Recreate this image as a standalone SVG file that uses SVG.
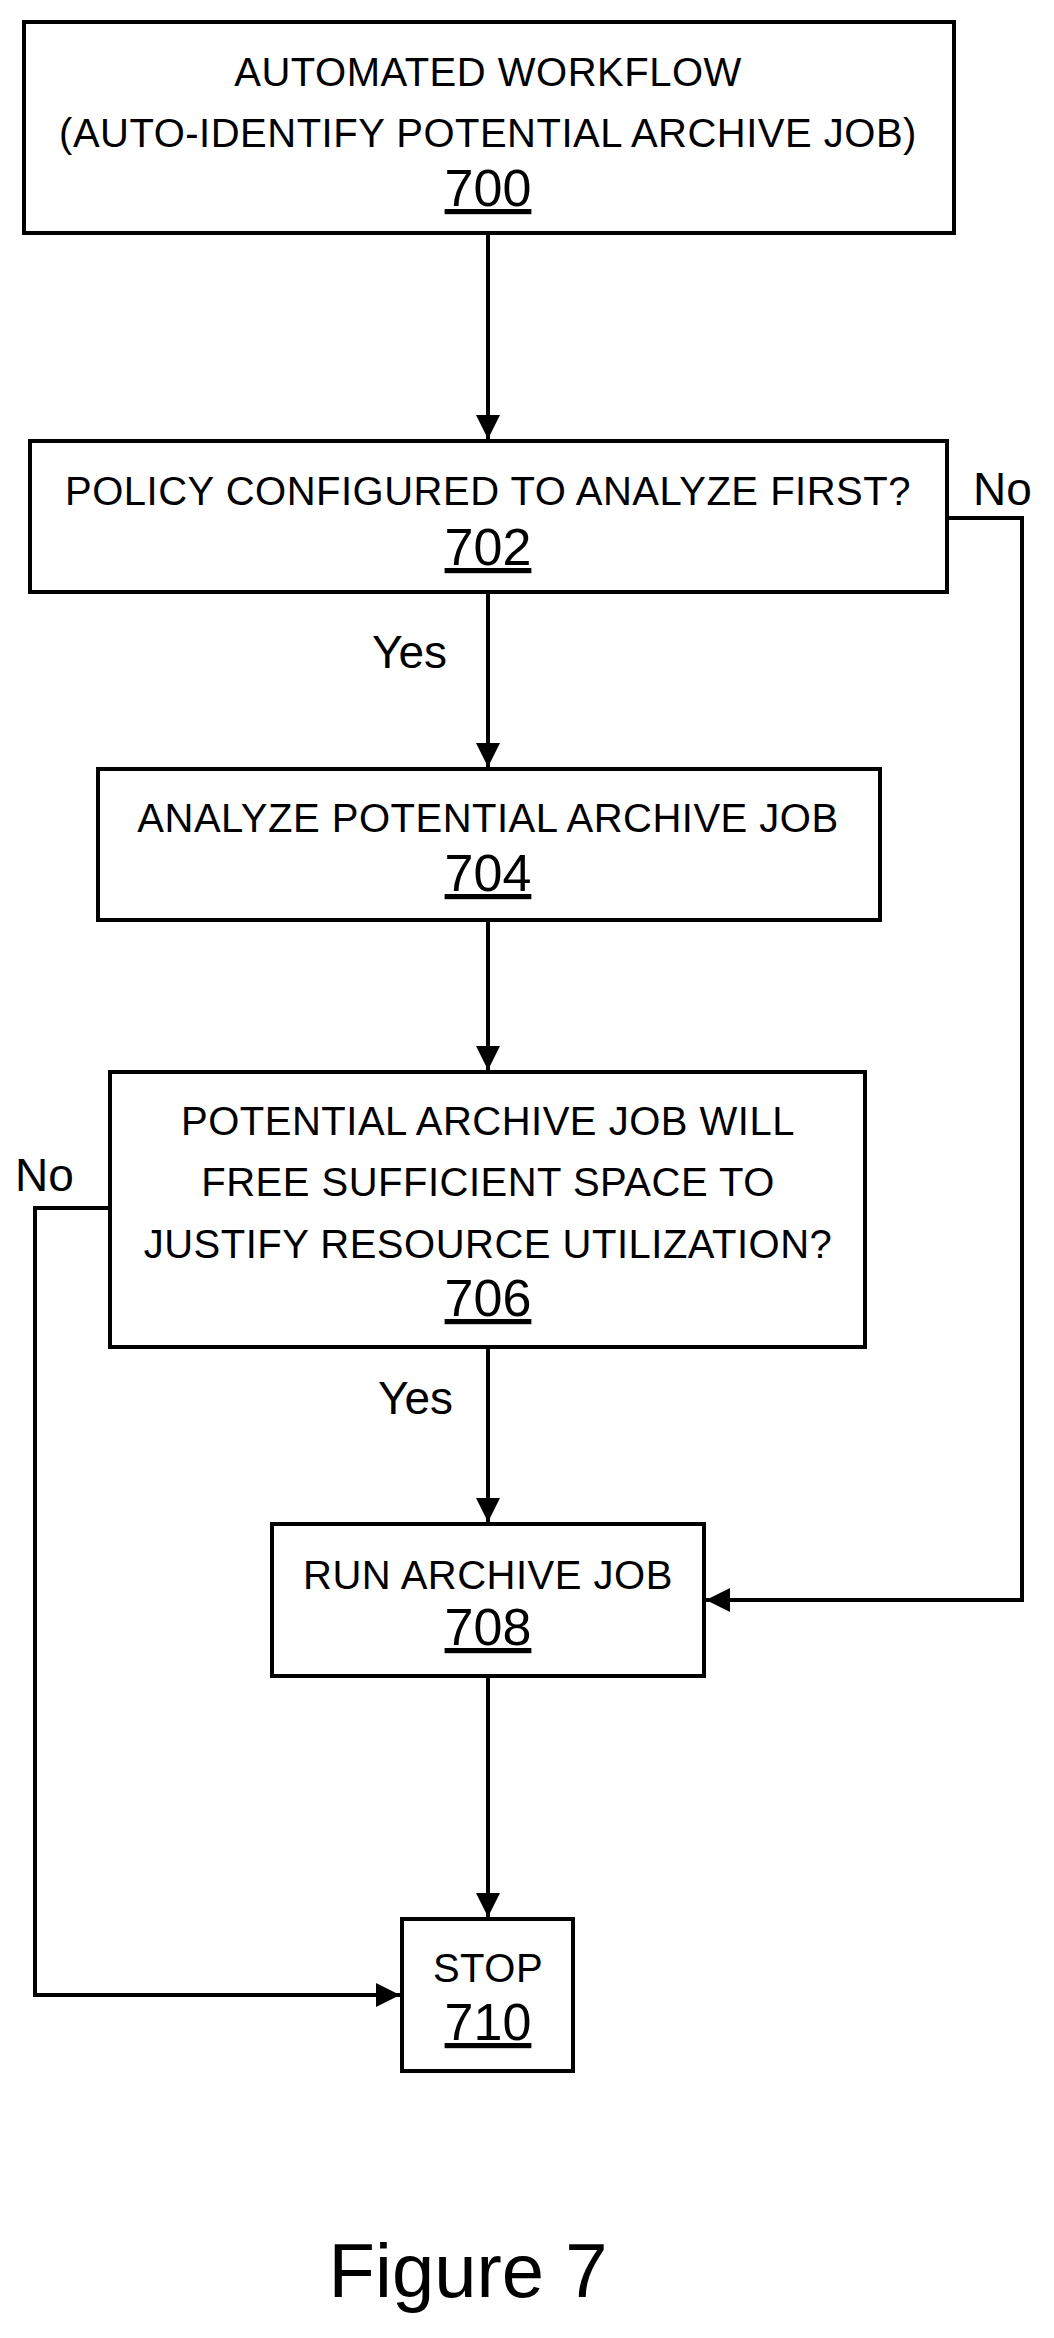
<svg xmlns="http://www.w3.org/2000/svg" width="1054" height="2338" viewBox="0 0 1054 2338">
<style>
rect{fill:#fff;stroke:#000;stroke-width:4}
text{font-family:"Liberation Sans",Arial,sans-serif;font-size:40px;letter-spacing:0.5px;text-anchor:middle;fill:#000}
.n{font-size:52px;letter-spacing:0;text-decoration:underline}
.l{font-size:46px;letter-spacing:0;text-anchor:start}
.c{fill:none;stroke:#000;stroke-width:4}
</style>
<defs><marker id="a" viewBox="0 0 10 10" refX="10" refY="5" markerWidth="6" markerHeight="6" markerUnits="strokeWidth" orient="auto"><path d="M0,0L10,5L0,10z" fill="#000"/></marker></defs>
<rect x="0" y="0" width="1054" height="2338" style="stroke:none"/>
<g id="connectors">
<path class="c" d="M488,233V439" marker-end="url(#a)"/>
<path class="c" d="M488,592V767" marker-end="url(#a)"/>
<path class="c" d="M488,920V1070" marker-end="url(#a)"/>
<path class="c" d="M488,1347V1522" marker-end="url(#a)"/>
<path class="c" d="M488,1676V1917" marker-end="url(#a)"/>
<path class="c" d="M947,518H1022V1600H706" marker-end="url(#a)"/>
<path class="c" d="M110,1208H35V1995H400" marker-end="url(#a)"/>
<text class="l" x="973" y="505">No</text>
<text class="l" x="372" y="668">Yes</text>
<text class="l" x="15" y="1191">No</text>
<text class="l" x="378" y="1414">Yes</text>
</g>
<g id="n700"><rect x="24" y="22" width="930" height="211"/><text x="488" y="86">AUTOMATED WORKFLOW</text><text x="488" y="147">(AUTO-IDENTIFY POTENTIAL ARCHIVE JOB)</text><text class="n" x="488" y="206">700</text></g>
<g id="n702"><rect x="30" y="441" width="917" height="151"/><text x="488" y="505">POLICY CONFIGURED TO ANALYZE FIRST?</text><text class="n" x="488" y="565">702</text></g>
<g id="n704"><rect x="98" y="769" width="782" height="151"/><text x="488" y="832">ANALYZE POTENTIAL ARCHIVE JOB</text><text class="n" x="488" y="891">704</text></g>
<g id="n706"><rect x="110" y="1072" width="755" height="275"/><text x="488" y="1135">POTENTIAL ARCHIVE JOB WILL</text><text x="488" y="1196">FREE SUFFICIENT SPACE TO</text><text x="488" y="1258">JUSTIFY RESOURCE UTILIZATION?</text><text class="n" x="488" y="1316">706</text></g>
<g id="n708"><rect x="272" y="1524" width="432" height="152"/><text x="488" y="1589">RUN ARCHIVE JOB</text><text class="n" x="488" y="1645">708</text></g>
<g id="n710"><rect x="402" y="1919" width="171" height="152"/><text x="488" y="1982">STOP</text><text class="n" x="488" y="2040">710</text></g>
<text x="468" y="2297" style="font-size:76px;letter-spacing:0">Figure 7</text>
</svg>
